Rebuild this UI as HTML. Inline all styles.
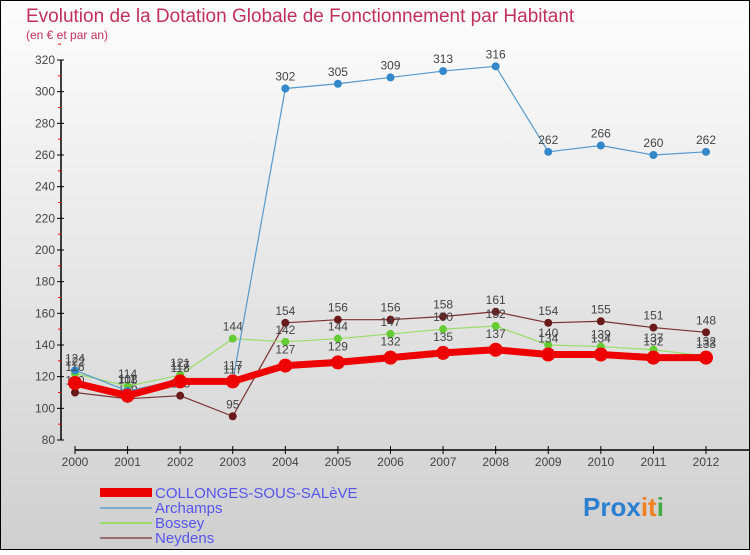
<!DOCTYPE html>
<html><head><meta charset="utf-8"><style>
body{margin:0;width:750px;height:550px;overflow:hidden;font-family:"Liberation Sans",sans-serif}
svg text{font-family:"Liberation Sans",sans-serif}
</style></head><body>
<svg id="chart" width="750" height="550">
<defs><linearGradient id="bg" x1="0" y1="0" x2="0" y2="1"><stop offset="0" stop-color="#fdfdfd"/><stop offset="1" stop-color="#cfcfcf"/></linearGradient></defs>
<rect x="0.5" y="0.5" width="749" height="549" fill="url(#bg)" stroke="#000"/>
<text x="26" y="22" font-size="19" fill="#c0305a">Evolution de la Dotation Globale de Fonctionnement par Habitant</text>
<text x="26" y="39" font-size="12" fill="#c0305a">(en € et par an)</text>
<g id="axes"></g><g id="series"></g>
<g font-size="15" fill="#5555ee">
<rect x="100" y="488" width="52" height="9" fill="#e00"/>
<text x="155" y="498">COLLONGES-SOUS-SALèVE</text>
<line x1="100" y1="508" x2="152" y2="508" stroke="#7aaed0" stroke-width="2"/>
<text x="155" y="513">Archamps</text>
<line x1="100" y1="523" x2="152" y2="523" stroke="#99dd66" stroke-width="2"/>
<text x="155" y="528">Bossey</text>
<line x1="100" y1="538" x2="152" y2="538" stroke="#997070" stroke-width="2"/>
<text x="155" y="543">Neydens</text>
</g>
<text x="583" y="516" font-size="26" font-weight="bold"><tspan fill="#2a7fd0">Pro</tspan><tspan fill="#2a7fd0">x</tspan><tspan fill="#f08020">it</tspan><tspan fill="#44aa44">i</tspan></text>
</svg>
<script>
const years=[2000,2001,2002,2003,2004,2005,2006,2007,2008,2009,2010,2011,2012];
const collonges=[116,108,117,117,127,129,132,135,137,134,134,132,132];
const archamps=[124,111,118,117,302,305,309,313,316,262,266,260,262];
const bossey=[122,114,121,144,142,144,147,150,152,140,139,137,133];
const neydens=[110,106,108,95,154,156,156,158,161,154,155,151,148];
const yTicks=[80,100,120,140,160,180,200,220,240,260,280,300,320];
const NS="http://www.w3.org/2000/svg";
const x=i=>75+i*(706-75)/12;
const y=v=>440-(v-80)*380/240;
function mk(t,a,p){const e=document.createElementNS(NS,t);for(const k in a)e.setAttribute(k,a[k]);p.appendChild(e);return e;}
const ax=document.getElementById('axes');
const yl=mk('line',{x1:61,y1:y(320),x2:61,y2:y(80),stroke:'#000','stroke-width':1.5},ax);


yTicks.forEach(v=>{
  mk('line',{x1:57,x2:64,y1:y(v),y2:y(v),stroke:'#000'},ax);
  mk('line',{x1:58,x2:61,y1:y(v+10),y2:y(v+10),stroke:'#f00'},ax);
  const t=mk('text',{x:55,y:y(v)+4,'text-anchor':'end','font-size':12,fill:'#444'},ax);t.textContent=v;
  
  
});
const xl=mk('line',{x1:75,y1:450,x2:750,y2:450,stroke:'#000','stroke-width':1.5},ax);


years.forEach((yr,i)=>{
  mk('line',{x1:x(i),x2:x(i),y1:446,y2:454,stroke:'#000'},ax);
  const t=mk('text',{x:x(i),y:466,'text-anchor':'middle','font-size':12,fill:'#444'},ax);t.textContent=yr;
  
  
});
const sg=document.getElementById('series');
function series(data,name,col,dot,w,r,dy){
  const g=mk('g',{},sg);
  
  
  mk('polyline',{points:data.map((v,i)=>x(i)+','+y(v)).join(' '),fill:'none',stroke:col,'stroke-width':w,'stroke-linejoin':'round'},g);
  data.forEach((v,i)=>{
    const c=mk('circle',{cx:x(i),cy:y(v),r:r,fill:dot},g);
    
    
    const t=mk('text',{x:x(i),y:y(v)-dy,'text-anchor':'middle','font-size':12,fill:'#444'},g);t.textContent=v;
    
    
  });
}
series(neydens,'neydens','#7a3030','#6a1a1a',1.2,4,8);
series(bossey,'bossey','#99dd66','#66cc33',1.2,4,8);
series(archamps,'archamps','#5599cc','#3388cc',1.2,4,8);
series(collonges,'collonges','#ee0000','#ee0000',7,7,12);
</script>
</body></html>
